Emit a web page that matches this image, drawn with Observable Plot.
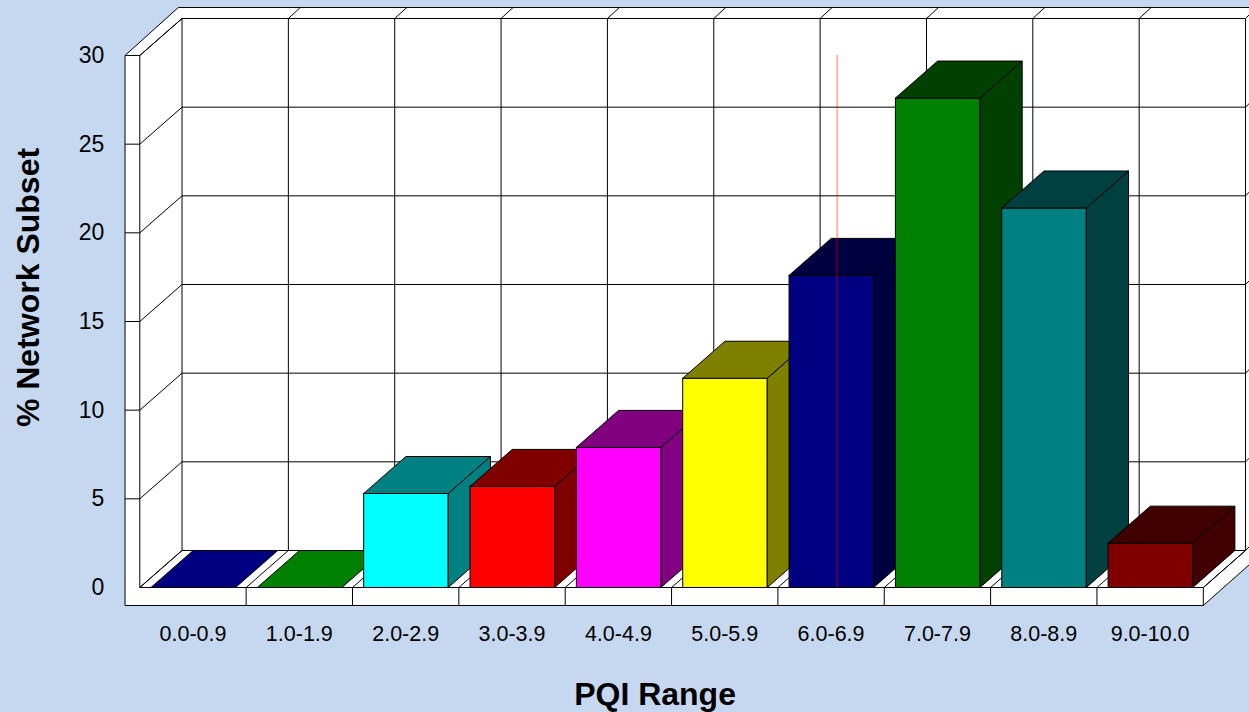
<!DOCTYPE html>
<html>
<head>
<meta charset="utf-8">
<script src="https://cdn.jsdelivr.net/npm/d3@7"></script>
<script src="https://cdn.jsdelivr.net/npm/@observablehq/plot@0.6"></script>
<style>
  html, body { margin: 0; padding: 0; background: #c6d8ef; overflow: hidden; }
  svg { display: block; }
</style>
</head>
<body>
<div id="chart"></div>
<script>
const categories = ["0.0-0.9","1.0-1.9","2.0-2.9","3.0-3.9","4.0-4.9","5.0-5.9","6.0-6.9","7.0-7.9","8.0-8.9","9.0-10.0"];
const values = [0, 0, 5.3, 5.7, 7.9, 11.8, 17.6, 27.6, 21.4, 2.5];
const frontColors = ["#000080","#008000","#00ffff","#ff0000","#ff00ff","#ffff00","#000080","#008000","#008080","#800000"];
const sideColors = ["#000040","#004000","#008080","#800000","#800080","#808000","#000040","#004000","#004040","#400000"];
const topColors = ["#000080","#008000","#008080","#800000","#800080","#808000","#000040","#004000","#004040","#400000"];
const yTicks = [0, 5, 10, 15, 20, 25, 30];
const markerAt = 6.558;

// Depth of the 3-D box, in data units
const depthX = 0.397, depthY = 2.087;
const rimX = 0.113, rimY = 0.62;
const slabLeft = -0.139, slabBottom = -1.015;
const edgeX = 10.434;
const barStart = 0.105, barEnd = 0.9;
const topV = 30 + depthY + rimY;
const idx = d3.range(categories.length + 1);

const poly = (pts, fill, stroke = "#000") =>
  Plot.line(pts.concat([pts[0]]), {x: d => d[0], y: d => d[1], fill, stroke, strokeWidth: 1, strokeLinejoin: "miter"});
const links = (rows, stroke = "#000", strokeWidth = 1) =>
  Plot.link(rows, {x1: d => d[0], y1: d => d[1], x2: d => d[2], y2: d => d[3], stroke, strokeWidth});

const bars = categories.flatMap((_, i) => {
  const a = i + barStart, b = i + barEnd, v = values[i];
  const out = [];
  if (v > 0) {
    out.push(poly([[a,0],[b,0],[b,v],[a,v]], frontColors[i]));
    out.push(poly([[b,0],[b+depthX,depthY],[b+depthX,v+depthY],[b,v]], sideColors[i]));
  }
  out.push(poly([[a,v],[b,v],[b+depthX,v+depthY],[a+depthX,v+depthY]], topColors[i]));
  return out;
});

const corner = depthX - 0.035;

const chart = Plot.plot({
  width: 1249,
  height: 712,
  marginLeft: 139.3,
  marginRight: 46.2,
  marginTop: 55,
  marginBottom: 125,
  style: {background: "#c6d8ef", fontFamily: "'Liberation Sans', Arial, sans-serif", color: "#000"},
  x: {domain: [0, 10]},
  y: {domain: [0, 30]},
  marks: [
    // white box
    poly([[slabLeft,30],[corner,topV],[edgeX,topV],[edgeX,1.297],[10,slabBottom],[slabLeft,slabBottom]], "#fff", "none"),
    // outline of the box
    links([[slabLeft,30,slabLeft,slabBottom],[slabLeft,slabBottom,10,slabBottom],[10,slabBottom,10,0],[10,slabBottom,edgeX,1.297],
           [slabLeft,30,corner,topV],[corner,topV,edgeX,topV],[0,30,depthX,30+depthY],[0,0,0,30],[0,0,10,0],[10,0,10+depthX,depthY]]),
    // back wall grid
    links(yTicks.map(v => [depthX, v+depthY, 10+depthX, v+depthY])),
    links(idx.map(i => [i+depthX, depthY, i+depthX, 30+depthY])),
    // left wall and rim grid
    links(yTicks.map(v => [0, v, depthX, v+depthY])),
    links(yTicks.slice(1).map(v => [slabLeft, v, 0, v])),
    links(yTicks.map(v => [10+depthX, v+depthY, edgeX, v+depthY+0.22])),
    links(idx.slice(1, -1).map(i => [i+depthX, 30+depthY, i+depthX+rimX, topV])),
    // floor
    links(idx.map(i => [i, 0, i+depthX, depthY])),
    links(idx.slice(1, -1).map(i => [i, 0, i, slabBottom])),
    ...bars,
    // thin marker
    Plot.ruleX([markerAt], {y1: 0, y2: 30, stroke: "#ff0000", strokeOpacity: 0.3, strokeWidth: 2}),
    // axes
    Plot.axisY({ticks: yTicks, tickSize: 0, tickPadding: 35.5, fontSize: 23, label: null}),
    Plot.axisX({ticks: categories.map((_, i) => i + 0.5), tickFormat: d => categories[Math.floor(d)], tickSize: 0, tickPadding: 38, fontSize: 21.5, label: null}),
    Plot.text(["PQI Range"], {frameAnchor: "bottom", dx: -16.5, dy: 117, fontSize: 32, fontWeight: "bold", fill: "#000"}),
    Plot.text(["% Network Subset"], {frameAnchor: "left", textAnchor: "middle", rotate: -90, dx: -111, dy: -34, fontSize: 32, fontWeight: "bold", fill: "#000"})
  ]
});
document.getElementById("chart").appendChild(chart);
</script>
</body>
</html>
